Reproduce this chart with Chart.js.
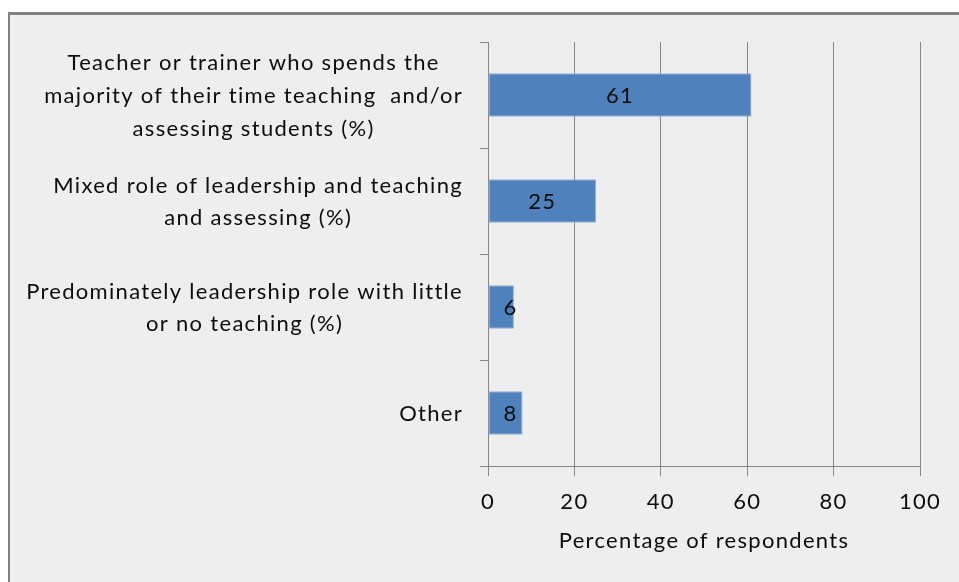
<!DOCTYPE html>
<html>
<head>
<meta charset="utf-8">
<script src="https://cdn.jsdelivr.net/npm/chart.js@4"></script>
<style>
  body { margin: 0; background: #fff; }
  canvas { display: block; }
</style>
</head>
<body>
<canvas id="chart" width="959" height="582"></canvas>
<script>
// data
const roles = [
  ["Teacher or trainer who spends the", "majority of their time teaching  and/or", "assessing students (%)"],
  ["Mixed role of leadership and teaching", "and assessing (%)"],
  ["Predominately leadership role with little", "or no teaching (%)"],
  ["Other"]
];
const percents = [61, 25, 6, 8];
const xTickValues = [0, 20, 40, 60, 80, 100];

const FONT = "Lato";
const SPACING = "1.3px"; // lato is a bit tighter than the original font
const textColor = "#0d0d0d";
const lineColor = "#868686";

// grey panel with a frame, like the original sheet
const framePlugin = {
  id: "frame",
  beforeDraw(chart) {
    const c = chart.ctx;
    c.save();
    c.fillStyle = "#fff";
    c.fillRect(0, 0, chart.width, chart.height);
    c.fillStyle = "#828282";
    c.fillRect(8, 12, chart.width, chart.height);
    c.fillStyle = "#eeeeee";
    c.fillRect(10, 15, chart.width, chart.height);
    c.restore();
    c.letterSpacing = SPACING;
  },
};

// category labels: block right aligned, lines centred inside the block
const roleLabels = {
  id: "roleLabels",
  afterDraw(chart) {
    const c = chart.ctx;
    const y = chart.scales.y;
    const rightEdge = 463;
    const lineGap = 32.7;
    c.save();
    c.letterSpacing = SPACING;
    c.font = "22px " + FONT;
    c.fillStyle = textColor;
    c.textAlign = "center";
    c.textBaseline = "alphabetic";
    roles.forEach((lines, i) => {
      const widest = Math.max(...lines.map((l) => c.measureText(l).width));
      const cx = rightEdge - widest / 2;
      const cy = y.getPixelForValue(i);
      lines.forEach((l, j) => {
        c.fillText(l, cx, cy + 8 + (j - (lines.length - 1) / 2) * lineGap);
      });
    });
    c.restore();
  },
};

// value in the middle of each bar, kept clear of the axis on short bars
const barValues = {
  id: "barValues",
  afterDatasetsDraw(chart) {
    const c = chart.ctx;
    const meta = chart.getDatasetMeta(0);
    c.save();
    c.letterSpacing = SPACING;
    c.font = "22px " + FONT;
    c.fillStyle = textColor;
    c.textAlign = "center";
    c.textBaseline = "alphabetic";
    meta.data.forEach((bar, i) => {
      const txt = String(percents[i]);
      const w = c.measureText(txt).width;
      const x = Math.max((bar.x + bar.base) / 2, bar.base + 15 + w / 2);
      c.fillText(txt, x, bar.y + 8);
    });
    c.restore();
  },
};

const chart = new Chart(document.getElementById("chart"), {
  type: "bar",
  plugins: [framePlugin, roleLabels, barValues],
  data: {
    labels: roles,
    datasets: [
      {
        data: percents,
        backgroundColor: "#4f81bd",
        borderColor: "#93b1d8",
        borderWidth: 1,
        borderSkipped: false,
        barPercentage: 0.41,
        categoryPercentage: 1,
      },
    ],
  },
  options: {
    indexAxis: "y",
    responsive: false,
    animation: false,
    layout: {
      padding: { top: 42, right: 39, left: 0, bottom: 0 },
    },
    plugins: {
      legend: { display: false },
      tooltip: { enabled: false },
    },
    scales: {
      x: {
        min: xTickValues[0],
        max: xTickValues[xTickValues.length - 1],
        afterBuildTicks: (scale) => {
          scale.ticks = xTickValues.map((v) => ({ value: v }));
        },
        afterFit: (scale) => {
          scale.height = 116;
          scale.paddingLeft = 0;
          scale.paddingRight = 0;
        },
        grid: {
          color: lineColor,
          tickLength: 10,
        },
        border: { color: lineColor },
        ticks: {
          color: textColor,
          padding: 13,
          font: { family: FONT, size: 22 },
        },
        title: {
          display: true,
          text: "Percentage of respondents",
          color: textColor,
          padding: { top: 0, bottom: 28 },
          font: { family: FONT, size: 22 },
        },
      },
      y: {
        afterFit: (scale) => {
          scale.width = 488;
          scale.paddingTop = 0;
          scale.paddingBottom = 0;
        },
        grid: {
          drawOnChartArea: false,
          offset: true,
          tickLength: 8,
          color: lineColor,
        },
        border: { color: lineColor },
        ticks: { display: false },
      },
    },
  },
});
</script>
</body>
</html>
